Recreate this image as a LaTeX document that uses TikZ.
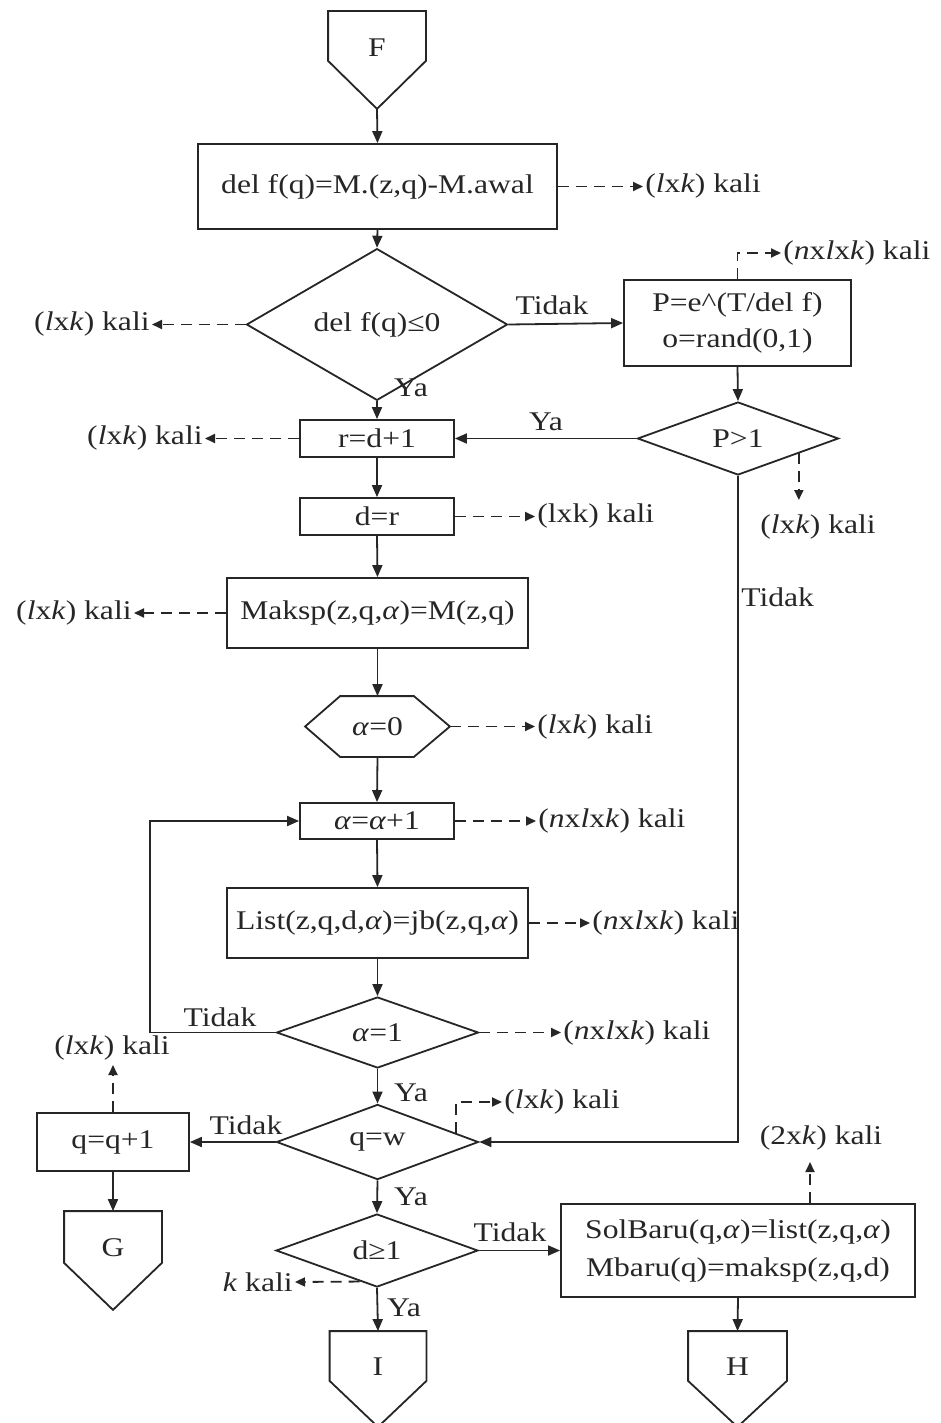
\documentclass[tikz,border=0pt]{standalone}
\usepackage{fontspec}
\setmainfont{Liberation Serif}[FakeStretch=1.17]
\usetikzlibrary{arrows.meta,shapes.geometric,calc}
\colorlet{ink}{black!85}
\newcommand\lk{(\textit{l}x\textit{k})}
\newcommand\nlk{(\textit{n}x\textit{l}x\textit{k})}
% off-page connector: outline around a rectangular node, pointing down
\newcommand\offpg[2]{%
  \coordinate (#1tip) at ($(#1.south)+(0,#2)$);
  \draw (#1.north west) -- (#1.south west) -- (#1tip) -- (#1.south east) -- (#1.north east) -- cycle;}

\begin{document}
\begin{tikzpicture}[x=1pt,y=-1pt,color=ink,line width=1.8pt,
  font=\fontsize{27}{36}\selectfont,
  box/.style={draw,rectangle,inner sep=0,align=center},
  dia/.style={draw,diamond,inner sep=0},
  offrect/.style={rectangle,inner sep=0,minimum width=96pt,minimum height=48pt},
  lbl/.style={inner sep=1.5pt},
  arr/.style={-{Triangle[length=12pt,width=10pt]}},
  darr/.style={dash pattern=on 11pt off 7pt,-{Triangle[length=10pt,width=9pt]}}]

\fill[white] (0,0) rectangle (941,1423);
\useasboundingbox (0,0) rectangle (941,1423);

% ---- main column ----
\node[offrect] (F) at (377,36) {};
\offpg{F}{48}
\node (Ft) at ($(F)+(0,12)$) {F};

\node[box,minimum width=359pt,minimum height=85pt] (b1) at (377.5,186.5) {del f(q)=M.(z,q)-M.awal};
\node[dia,minimum width=261pt,minimum height=95pt] (d1) at (377,324.5) {del f(q)≤0};
\node[box,minimum width=227pt,minimum height=86pt,font=\fontsize{27}{36}\selectfont] (pb) at (737.5,323) {P=e\^{}(T/del f)\\o=rand(0,1)};
\node[dia,minimum width=201pt,minimum height=73pt] (d2) at (738,438.5) {P>1};
\node[box,minimum width=154pt,minimum height=37pt] (r1) at (377,438.5) {r=d+1};
\node[box,minimum width=154pt,minimum height=37pt] (dr) at (377,516.5) {d=r};
\node[box,minimum width=301pt,minimum height=70pt] (mk) at (377.5,613) {Maksp(z,q,\textit{α})=M(z,q)};
\node[rectangle,inner sep=0,minimum width=143pt,minimum height=59pt] (h0) at (377.5,726.5) {\textit{α}=0};
\draw (h0.west) -- ($(h0.north west)+(35,0)$) -- ($(h0.north east)+(-36,0)$) -- (h0.east)
      -- ($(h0.south east)+(-36,0)$) -- ($(h0.south west)+(35,0)$) -- cycle;
\node[box,minimum width=154pt,minimum height=36pt] (a1) at (377,821) {\textit{α}=\textit{α}+1};
\node[box,minimum width=301pt,minimum height=70pt] (ls) at (377.5,923) {List(z,q,d,\textit{α})=jb(z,q,\textit{α})};
\node[dia,minimum width=202pt,minimum height=71pt] (d3) at (377.5,1032.5) {\textit{α}=1};
\node[dia,minimum width=202pt,minimum height=73pt] (d4) at (377.5,1142) {q=w};
\node[box,minimum width=152pt,minimum height=58pt] (qq) at (113,1142) {q=q+1};
\node[offrect,minimum height=50pt] (G) at (113,1237) {};
\offpg{G}{47}
\node (Gt) at ($(G)+(0,11)$) {G};
\node[dia,minimum width=202pt,minimum height=73pt] (d5) at (377,1250.5) {d≥1};
\node[box,minimum width=354pt,minimum height=93pt,font=\fontsize{27}{38}\selectfont] (sb) at (738,1250.5) {SolBaru(q,\textit{α})=list(z,q,\textit{α})\\Mbaru(q)=maksp(z,q,d)};
\node[offrect,minimum width=95pt] (I) at (378,1356) {};
\offpg{I}{46}
\node (It) at ($(I)+(0,11)$) {I};
\node[offrect,minimum width=97pt] (H) at (737.5,1356) {};
\offpg{H}{46}
\node (Ht) at ($(H)+(0,11)$) {H};

% ---- flow lines ----
\draw[arr] (Ftip) -- (b1.north);
\draw[arr] (b1.south) -- (d1.north);
\draw[arr] (d1.east) -- (pb.west);
\draw[arr] (d1.south) -- (r1.north);
\draw[arr] (pb.south) -- (d2.north);
\draw[arr] (d2.west) -- (r1.east);
\draw[arr] (r1.south) -- (dr.north);
\draw[arr] (dr.south) -- (mk.north);
\draw[arr] (mk.south) -- (h0.north);
\draw[arr] (h0.south) -- (a1.north);
\draw[arr] (a1.south) -- (ls.north);
\draw[arr] (ls.south) -- (d3.north);
\draw[arr] (d3.south) -- (d4.north);
\draw[arr] (d3.west) -- ++(-126,0) |- (a1.west);
\draw[arr] (d2.south) |- (d4.east);
\draw[arr] (d4.west) -- (qq.east);
\draw[arr] (qq.south) -- (G.north);
\draw[arr] (d4.south) -- (d5.north);
\draw[arr] (d5.east) -- (sb.west);
\draw[arr] (sb.south) -- (H.north);
\draw[arr] (d5.south) -- (I.north);

% ---- branch labels ----
\node[lbl] (t1) at (552,305) {Tidak};
\node[lbl] (y1) at (411,388) {Ya};
\node[lbl] (y2) at (546,422) {Ya};
\node[lbl,anchor=west] (t2) at (739,597) {Tidak};
\node[lbl] (t3) at (220,1017) {Tidak};
\node[lbl] (y3) at (411,1093) {Ya};
\node[lbl] (t4) at (246,1125) {Tidak};
\node[lbl] (y4) at (411,1197) {Ya};
\node[lbl] (t5) at (510,1232) {Tidak};
\node[lbl] (y5) at (404,1308) {Ya};

% ---- counts ----
\node[lbl,anchor=west] (c1) at (643,186.5) {\lk\ kali};
\draw[darr] (b1.east) -- (c1.west);
\node[lbl,anchor=east] (c2) at (152,324.5) {\lk\ kali};
\draw[darr] (d1.west) -- (c2.east);
\node[lbl,anchor=west] (c3) at (781,253) {\nlk\ kali};
\draw[darr] (pb.north) |- (c3.west);
\node[lbl,anchor=east] (c4) at (205,438.5) {\lk\ kali};
\draw[darr] (r1.west) -- (c4.east);
\coordinate (p5) at ($(d2.east)!0.4!(d2.south)$);
\node[lbl] (c5) at (818,527) {\lk\ kali};
\draw[darr] (p5) -- (p5 |- 0,500);
\node[lbl,anchor=west] (c6) at (535,516.5) {(lxk) kali};
\draw[darr] (dr.east) -- (c6.west);
\node[lbl,anchor=east] (c8) at (134,613) {\lk\ kali};
\draw[darr] (mk.west) -- (c8.east);
\node[lbl,anchor=west] (c9) at (535,726.5) {\lk\ kali};
\draw[darr] (h0.east) -- (c9.west);
\node[lbl,anchor=west] (c10) at (536,821) {\nlk\ kali};
\draw[darr] (a1.east) -- (c10.west);
\node[lbl,anchor=west] (c11) at (590,923) {\nlk\ kali};
\draw[darr] (ls.east) -- (c11.west);
\node[lbl,anchor=west] (c12) at (561,1032.5) {\nlk\ kali};
\draw[darr] (d3.east) -- (c12.west);
\coordinate (p13) at ($(d4.north)!0.77!(d4.east)$);
\node[lbl,anchor=west] (c13) at (502,1102) {\lk\ kali};
\draw[darr] (p13) |- (c13.west);
\node[lbl] (c15) at (112,1048) {\lk\ kali};
\draw[darr] (qq.north) -- (qq.north |- 0,1065);
\coordinate (p14) at ($(d5.south)!0.17!(d5.west)$);
\node[lbl,anchor=east] (c14) at (295,1282) {\textit{k} kali};
\draw[darr] (p14) -- (c14.east);
\coordinate (p16) at ($(sb.north)+(72,0)$);
\node[lbl] (c16) at (821,1138) {(2x\textit{k}) kali};
\draw[darr] (p16) -- (p16 |- 0,1162);

\end{tikzpicture}
\end{document}
